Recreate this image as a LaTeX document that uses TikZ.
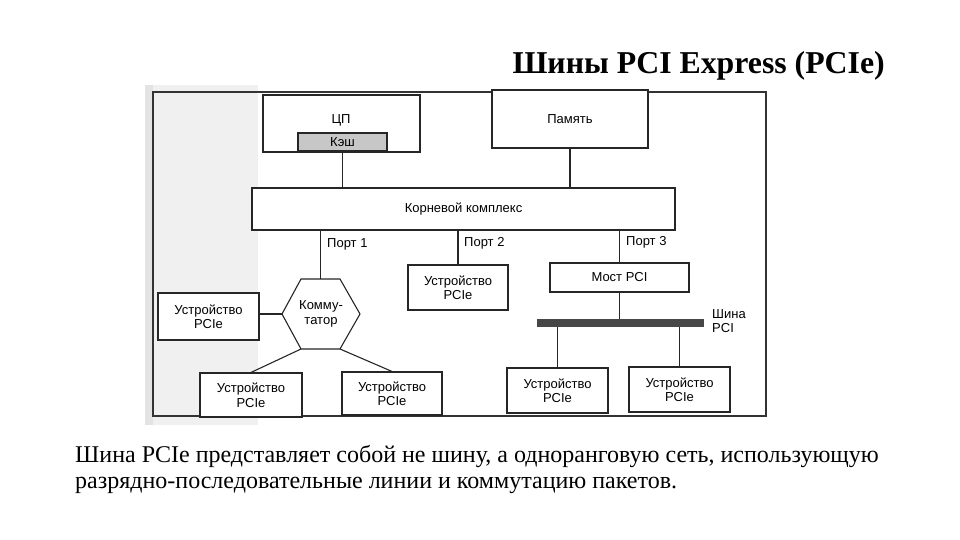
\documentclass[tikz,border=0pt]{standalone}
\usepackage{fontspec}
\setmainfont{Liberation Serif}
\newfontfamily\diagfont{Liberation Sans}
\begin{document}
\begin{tikzpicture}[x=1pt,y=-1pt,
  ln/.style={line width=1.1pt,draw=black!85},
  box/.style={ln,fill=white,inner sep=0pt,align=center,
    font=\diagfont\fontsize{13}{14.5}\selectfont},
  txt/.style={inner sep=0pt,align=center,font=\diagfont\fontsize{13}{14.5}\selectfont},
  lbl/.style={inner sep=0pt,anchor=west,font=\diagfont\fontsize{13}{14.5}\selectfont}]
\useasboundingbox (0,0) rectangle (960,540);
% scan shading
\fill[black!6] (145,85) rectangle (258,425);
\fill[black!11] (145,85) rectangle (153,425);
% frame
\draw[line width=1.3pt,draw=black!80] (153,92) rectangle (766,416);
% title
\node[inner sep=0pt,anchor=base east,font=\bfseries\fontsize{31.8}{36}\selectfont] (title) at (885,74) {Шины PCI Express (PCIe)};
% CPU
\node[box,minimum width=157pt,minimum height=57pt] (cpu) at (341.5,123.5) {};
\node[txt] (cpulbl) at (341,120) {ЦП};
\node[box,fill=black!22,minimum width=89pt,minimum height=18pt] (cache) at (342.5,142) {Кэш};
% memory
\node[box,minimum width=156pt,minimum height=58pt] (mem) at (570,119) {Память};
% root complex
\node[box,minimum width=423pt,minimum height=42pt] (root) at (463.5,209) {Корневой комплекс};
\draw[ln] (cache.south) -- (cache.south |- root.north);
\draw[ln] (mem.south) -- (mem.south |- root.north);
% switch hexagon
\coordinate (hT1) at (301,279);
\coordinate (hT2) at (340,279);
\coordinate (hR) at (360,314);
\coordinate (hB2) at (340,349);
\coordinate (hB1) at (301,349);
\coordinate (hL) at (282,314);
\draw[ln,fill=white] (hT1) -- (hT2) -- (hR) -- (hB2) -- (hB1) -- (hL) -- cycle;
\node[txt] (sw) at (321,314) {Комму-\\татор};
% port lines
\coordinate (p1) at (320.5,230);
\draw[ln] (p1) -- (p1 |- hT1);
\node[lbl] (port1) at (327,244) {Порт 1};
% devices
\node[box,minimum width=101pt,minimum height=47pt] (devL) at (208.5,316.5) {Устройство\\PCIe};
\node[box,minimum width=102pt,minimum height=44pt] (devB1) at (251,395) {Устройство\\PCIe};
\node[box,minimum width=100pt,minimum height=43pt] (devB2) at (392,393.5) {Устройство\\PCIe};
\node[box,minimum width=100pt,minimum height=45pt] (dev2) at (458,287.5) {Устройство\\PCIe};
\node[box,minimum width=139pt,minimum height=29pt] (bridge) at (619.5,277.5) {Мост PCI};
\node[box,minimum width=101pt,minimum height=45pt] (devR1) at (557.5,390.5) {Устройство\\PCIe};
\node[box,minimum width=101pt,minimum height=45pt] (devR2) at (679.5,389.5) {Устройство\\PCIe};
\draw[ln] (devL.east |- hL) -- (hL);
\draw[ln] (hB1) -- (devB1.north);
\draw[ln] (hB2) -- (devB2.north);
\draw[ln] (dev2.north) -- (dev2.north |- root.south);
\node[lbl] (port2) at (464,243) {Порт 2};
\draw[ln] (bridge.north) -- (bridge.north |- root.south);
\node[lbl] (port3) at (626,242) {Порт 3};
% PCI bus
\node[fill=black!72,minimum width=167pt,minimum height=8pt,inner sep=0pt] (bus) at (620.5,323) {};
\draw[ln] (bridge.south) -- (bus.north -| bridge.south);
\draw[ln] (devR1.north) -- (devR1.north |- bus.south);
\draw[ln] (devR2.north) -- (devR2.north |- bus.south);
\node[inner sep=0pt,anchor=west,align=left,font=\diagfont\fontsize{13}{14.5}\selectfont] (buslbl) at (712,321) {Шина\\PCI};
% caption
\node[inner sep=0pt,anchor=base west,font=\fontsize{24}{26}\selectfont] (cap1) at (75,462) {Шина PCIe представляет собой не шину, а одноранговую сеть, использующую};
\node[inner sep=0pt,anchor=base west,font=\fontsize{24}{26}\selectfont] (cap2) at (75,488) {разрядно-последовательные линии и коммутацию пакетов.};
\end{tikzpicture}
\end{document}
